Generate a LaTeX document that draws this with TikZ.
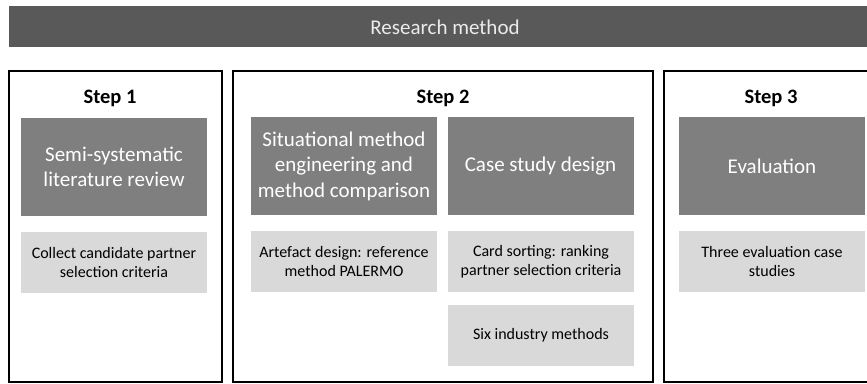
\documentclass[tikz,border=0pt]{standalone}
\usepackage{fontspec}
\setmainfont{Carlito}
\begin{document}
\begin{tikzpicture}[x=1pt,y=-1pt,
  stepbox/.style={draw=black, line width=1.4pt, fill=white},
  steplabel/.style={font=\bfseries\fontsize{20.5}{24}\selectfont, inner sep=0pt},
  darkbox/.style={fill=darkg, draw=none, text=white, align=center, inner sep=0pt, font=\fontsize{21}{25.5}\selectfont},
  lightbox/.style={fill=lightg, draw=none, text=black, align=center, inner sep=0pt, font=\fontsize{16}{19.5}\selectfont}
]
\definecolor{hdr}{HTML}{595959}
\definecolor{darkg}{HTML}{7F7F7F}
\definecolor{lightg}{HTML}{D9D9D9}
\useasboundingbox (0,0) rectangle (867,383);

% header bar
\fill[hdr] (9,6) rectangle (875,47);
\node[text=white!92!black, font=\fontsize{21}{25}\selectfont, inner sep=0pt] (hdrtxt) at (445,27) {Research method};

% step frames
\draw[stepbox] (9,71) rectangle (222,382);
\draw[stepbox] (233,71) rectangle (653,382);
\draw[stepbox] (664,71) rectangle (880,382);

\node[steplabel] (s1) at (110,98) {Step 1};
\node[steplabel] (s2) at (443,98) {Step 2};
\node[steplabel] (s3) at (771,98) {Step 3};

% step 1
\node[darkbox, minimum width=186pt, minimum height=98pt] (lit) at (114,167) {Semi-systematic\\literature review};
\node[lightbox, minimum width=186pt, minimum height=61pt] (collect) at (114,262.5) {Collect candidate partner\\selection criteria};

% step 2
\node[darkbox, minimum width=186pt, minimum height=98pt] (sme) at (344,166) {Situational method\\engineering and\\method comparison};
\node[lightbox, minimum width=186pt, minimum height=61pt] (art) at (344,261.5) {Artefact design: reference\\method PALERMO};
\node[darkbox, minimum width=186pt, minimum height=98pt] (csd) at (540.5,166) {Case study design};
\node[lightbox, minimum width=186pt, minimum height=61pt] (card) at (541,261.5) {Card sorting: ranking\\partner selection criteria};
\node[lightbox, minimum width=186pt, minimum height=61pt] (six) at (541,335.5) {Six industry methods};

% step 3
\node[darkbox, minimum width=186pt, minimum height=98pt] (eval) at (772,166) {Evaluation};
\node[lightbox, minimum width=186pt, minimum height=61pt] (three) at (772,261.5) {Three evaluation case\\studies};
\end{tikzpicture}
\end{document}
